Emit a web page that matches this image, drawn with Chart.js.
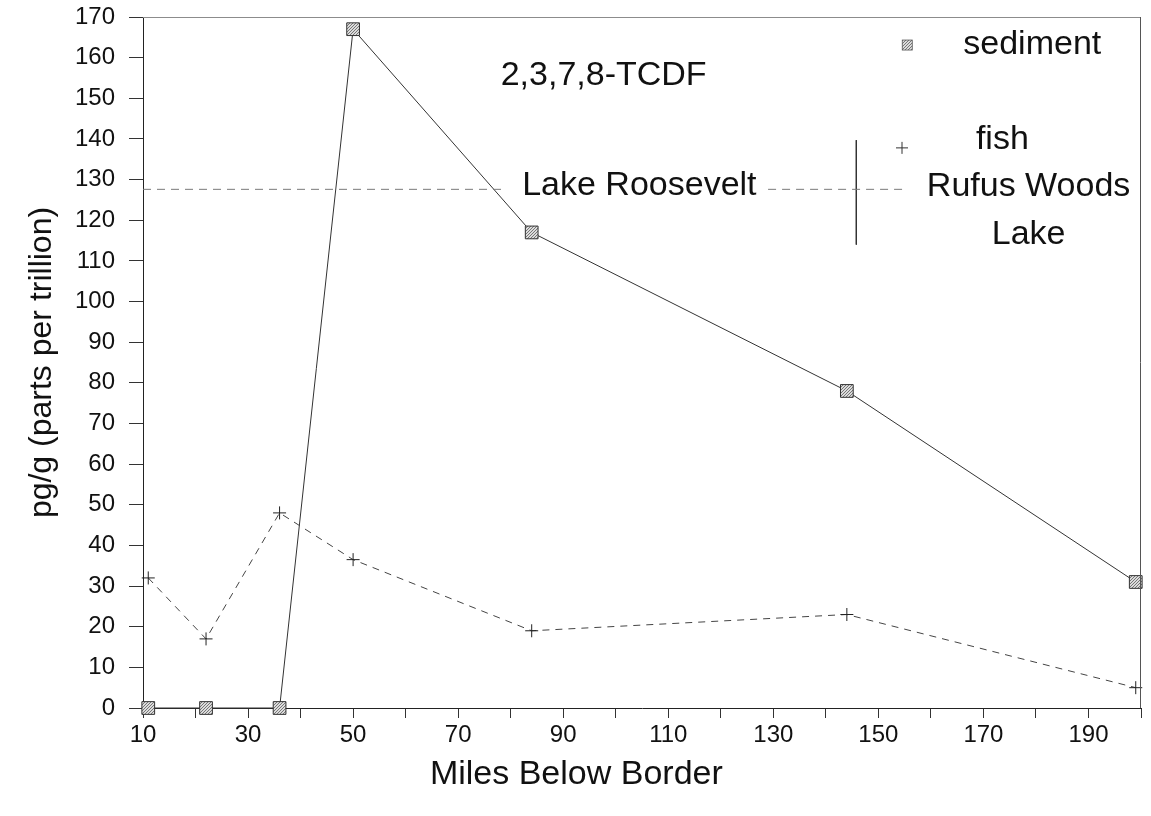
<!DOCTYPE html>
<html><head><meta charset="utf-8">
<script src="https://cdn.jsdelivr.net/npm/chart.js@4/dist/chart.umd.min.js"></script>
<style>html,body{margin:0;padding:0;background:#fff;overflow:hidden}#wrap{width:1151px;height:816px;overflow:hidden}canvas{display:block}</style>
</head><body><div id="wrap"><canvas id="c" width="1151" height="816"></canvas></div>
<script>
// ---- data ----
const sedimentMiles = [11, 22, 36, 50, 84, 144, 199];
const sedimentValues = [0, 0, 0, 167, 117, 78, 31];
const fishMiles = [11, 22, 36, 50, 84, 144, 199];
const fishValues = [32, 17, 48, 36.5, 19, 23, 5];
const xTickLabels = [10, 30, 50, 70, 90, 110, 130, 150, 170, 190];
const yTickLabels = [0,10,20,30,40,50,60,70,80,90,100,110,120,130,140,150,160,170];
const rooseveltLevel = 127.6;
const rooseveltLeftMiles = [10, 79];
const rooseveltRightMiles = [129, 155.6];
const boundaryMile = 145.8;
const boundaryLevels = [139.7, 114];

// ---- annotation texts (positions in data units) ----
const FONT = '"Liberation Sans", Arial, Helvetica, sans-serif';
const xTitle = {text: 'Miles Below Border', x: 92.5, offset: 67};
const annotations = [
  {text: '2,3,7,8-TCDF', x: 97.7, y: 155.7},
  {text: 'Lake Roosevelt', x: 104.5, y: 128.6},
  {text: 'Rufus Woods', x: 178.6, y: 128.2},
  {text: 'Lake', x: 178.6, y: 116.4},
  {text: 'sediment', x: 179.3, y: 163.1},
  {text: 'fish', x: 173.6, y: 139.8}
];
const legendMarks = [
  {kind: 'sediment', x: 155.5, y: 163.1},
  {kind: 'fish', x: 154.5, y: 137.8}
];
const PLOT_RIGHT = 1148;

function makePattern() {
  const p = document.createElement('canvas');
  p.width = 3; p.height = 3;
  const g = p.getContext('2d');
  g.fillStyle = '#dcdcdc'; g.fillRect(0, 0, 3, 3);
  g.fillStyle = '#777';
  g.fillRect(0, 0, 1, 1); g.fillRect(2, 1, 1, 1); g.fillRect(1, 2, 1, 1);
  return document.getElementById('c').getContext('2d').createPattern(p, 'repeat');
}
const stipple = makePattern();

const toXY = (xs, ys) => xs.map((x, i) => ({x, y: ys[i]}));

const decor = {
  id: 'decor',
  afterDatasetsDraw(chart) {
    const {ctx, chartArea: a, scales: {x, y}} = chart;
    ctx.save();
    ctx.lineWidth = 1;
    ctx.strokeStyle = '#8c8c8c';
    ctx.beginPath(); ctx.moveTo(a.left, a.top + 0.5); ctx.lineTo(a.right, a.top + 0.5); ctx.stroke();
    ctx.strokeStyle = '#555';
    ctx.beginPath(); ctx.moveTo(a.right - 0.5, a.top); ctx.lineTo(a.right - 0.5, a.bottom); ctx.stroke();
    ctx.fillStyle = '#111';
    ctx.font = '34px ' + FONT;
    ctx.textAlign = 'center';
    ctx.textBaseline = 'middle';
    annotations.forEach(t => ctx.fillText(t.text, x.getPixelForValue(t.x), y.getPixelForValue(t.y)));
    ctx.fillText(xTitle.text, x.getPixelForValue(xTitle.x), a.bottom + xTitle.offset);
    legendMarks.forEach(m => {
      const px = x.getPixelForValue(m.x), py = y.getPixelForValue(m.y);
      if (m.kind === 'sediment') {
        ctx.fillStyle = stipple; ctx.fillRect(px - 5, py - 5, 10, 10);
        ctx.strokeStyle = '#555'; ctx.lineWidth = 0.8; ctx.strokeRect(px - 5, py - 5, 10, 10);
      } else {
        ctx.strokeStyle = '#333'; ctx.lineWidth = 1;
        ctx.beginPath(); ctx.moveTo(px - 6, py); ctx.lineTo(px + 6, py);
        ctx.moveTo(px, py - 6); ctx.lineTo(px, py + 6); ctx.stroke();
      }
    });
    ctx.restore();
  }
};

const chart = new Chart(document.getElementById('c'), {
  type: 'line',
  data: {
    datasets: [
      {
        label: 'Lake Roosevelt left',
        data: rooseveltLeftMiles.map(m => ({x: m, y: rooseveltLevel})),
        borderColor: '#7a7a7a', borderWidth: 1, borderDash: [8, 6], pointRadius: 0
      },
      {
        label: 'Lake Roosevelt right',
        data: rooseveltRightMiles.map(m => ({x: m, y: rooseveltLevel})),
        borderColor: '#7a7a7a', borderWidth: 1, borderDash: [8, 6], pointRadius: 0
      },
      {
        label: 'boundary',
        data: boundaryLevels.map(v => ({x: boundaryMile, y: v})),
        borderColor: '#333', borderWidth: 1, pointRadius: 0
      },
      {
        label: 'fish',
        data: toXY(fishMiles, fishValues),
        borderColor: '#444', borderWidth: 1, borderDash: [7, 6],
        pointStyle: 'cross', pointRadius: 6.5, pointBorderWidth: 1,
        pointBorderColor: '#222', pointBackgroundColor: '#222'
      },
      {
        label: 'sediment',
        data: toXY(sedimentMiles, sedimentValues),
        borderColor: '#333', borderWidth: 1,
        pointStyle: 'rect', pointRadius: 9, pointBorderWidth: 1,
        pointBorderColor: '#333', pointBackgroundColor: stipple
      }
    ]
  },
  options: {
    responsive: false,
    devicePixelRatio: 1,
    animation: false,
    events: [],
    clip: false,
    layout: {padding: {top: 17, right: 3, left: 0, bottom: 0}},
    plugins: {legend: {display: false}, tooltip: {enabled: false}},
    elements: {line: {tension: 0}},
    scales: {
      x: {
        type: 'linear', min: 10, max: 200,
        afterFit(s) { s.height = 108; },
        border: {display: true, color: '#222', width: 1},
        grid: {drawOnChartArea: false, drawTicks: true, tickLength: 10, color: '#333'},
        ticks: {
          stepSize: 10, autoSkip: false, maxRotation: 0, padding: 3, color: '#111',
          font: {family: FONT, size: 24},
          callback: v => xTickLabels.includes(v) ? String(v) : ''
        },
        title: {display: false}
      },
      y: {
        type: 'linear', min: 0, max: 170,
        afterFit(s) { s.width = 143; s.paddingTop = 0; s.paddingBottom = 0; },
        border: {display: true, color: '#222', width: 1},
        grid: {drawOnChartArea: false, drawTicks: true, tickLength: 14, color: '#333'},
        ticks: {
          stepSize: 10, autoSkip: false, padding: 14, color: '#111',
          font: {family: FONT, size: 24},
          callback: v => yTickLabels.includes(v) ? String(v) : ''
        },
        title: {display: true, text: 'pg/g (parts per trillion)', color: '#111',
          font: {family: FONT, size: 32}, padding: {top: 23, bottom: 0}}
      }
    }
  },
  plugins: [decor]
});

// make the plot's right edge land where the reference has it
for (let i = 0; i < 3; i++) {
  const diff = PLOT_RIGHT - chart.chartArea.right;
  if (Math.abs(diff) < 0.5) break;
  chart.resize(Math.round(chart.width + diff), 816);
}
</script>
</body></html>
